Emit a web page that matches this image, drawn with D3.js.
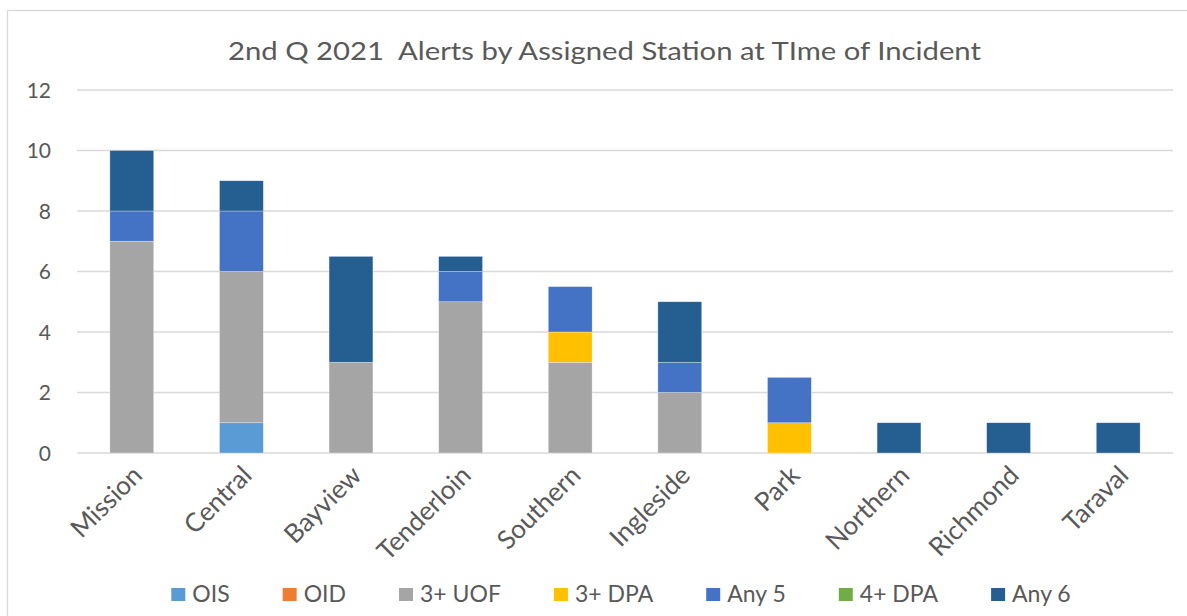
<!DOCTYPE html>
<html>
<head>
<meta charset="utf-8">
<script src="https://cdn.jsdelivr.net/npm/d3@7"></script>
<style>
  body { margin: 0; background: #fff; }
  text { font-family: Lato, "Open Sans", sans-serif; fill: #595959; }
  .grid line { stroke: #d9d9d9; stroke-width: 1.3; }
</style>
</head>
<body>
<div id="chart"></div>
<script>
const stations = ["Mission", "Central", "Bayview", "Tenderloin", "Southern", "Ingleside", "Park", "Northern", "Richmond", "Taraval"]
const seriesNames = ["OIS", "OID", "3+ UOF", "3+ DPA", "Any 5", "4+ DPA", "Any 6"]
const seriesColors = ["#5b9bd5", "#ed7d31", "#a5a5a5", "#ffc000", "#4472c4", "#70ad47", "#255e91"]
const ois    = [0, 1, 0, 0, 0, 0, 0, 0, 0, 0]
const oid    = [0, 0, 0, 0, 0, 0, 0, 0, 0, 0]
const uof3   = [7, 5, 3, 5, 3, 2, 0, 0, 0, 0]
const dpa3   = [0, 0, 0, 0, 1, 0, 1, 0, 0, 0]
const any5   = [1, 2, 0, 1, 1.5, 1, 1.5, 0, 0, 0]
const dpa4   = [0, 0, 0, 0, 0, 0, 0, 0, 0, 0]
const any6   = [2, 1, 3.5, 0.5, 0, 2, 0, 1, 1, 1]
const yTicks = [0, 2, 4, 6, 8, 10, 12]
const title = "2nd Q 2021  Alerts by Assigned Station at TIme of Incident"

const w = 1187, h = 616,
    margin = {top: 90, right: 14, bottom: 163, left: 77}

const seriesValues = [ois, oid, uof3, dpa3, any5, dpa4, any6]
const rows = stations.map((s, i) => {
  const r = {station: s}
  seriesNames.forEach((k, j) => { r[k] = seriesValues[j][i] })
  return r
})

const x = d3.scaleBand()
    .domain(stations)
    .range([margin.left, w - margin.right])
    .paddingInner(0.6)
    .paddingOuter(0.3),
  y = d3.scaleLinear()
    .domain([0, 12])
    .range([h - margin.bottom, margin.top])

const svg = d3.select("#chart").append("svg")
  .attr("width", w)
  .attr("height", h)

// chart frame
svg.append("rect")
  .attr("x", 7.5).attr("y", 10.5)
  .attr("width", w + 10).attr("height", h + 10)
  .attr("fill", "none")
  .attr("stroke", "#d9d9d9")
  .attr("stroke-width", 1.3)

svg.append("text")
  .attr("x", 228)
  .attr("y", 60)
  .attr("textLength", 753)
  .attr("lengthAdjust", "spacingAndGlyphs")
  .style("font-size", "25px")
  .style("white-space", "pre")
  .text(title)

// gridlines
svg.append("g")
  .attr("class", "grid")
  .selectAll("line")
  .data(yTicks)
  .join("line")
  .attr("x1", margin.left)
  .attr("x2", w - margin.right)
  .attr("y1", d => y(d))
  .attr("y2", d => y(d))

svg.append("g")
  .selectAll("text")
  .data(yTicks)
  .join("text")
  .attr("x", 51)
  .attr("y", d => y(d))
  .attr("dy", "0.36em")
  .attr("text-anchor", "end")
  .style("font-size", "21px")
  .text(d => d)

const stack = d3.stack().keys(seriesNames)(rows)

svg.append("g")
  .selectAll("g")
  .data(stack)
  .join("g")
  .attr("fill", (d, i) => seriesColors[i])
  .selectAll("rect")
  .data(d => d.filter(p => p[1] - p[0] > 0))
  .join("rect")
  .attr("x", d => x(d.data.station))
  .attr("width", x.bandwidth())
  .attr("y", d => y(d[1]))
  .attr("height", d => y(d[0]) - y(d[1]))
  .attr("stroke", "#fff")
  .attr("stroke-opacity", 0.5)
  .attr("stroke-width", 0.6)

// x labels, rotated
svg.append("g")
  .selectAll("text")
  .data(stations)
  .join("text")
  .attr("transform", d => `translate(${x(d) + x.bandwidth() / 2 + 12}, 477) rotate(-45)`)
  .attr("text-anchor", "end")
  .style("font-size", "26px")
  .text(d => d)

// legend
const legend = svg.append("g")
const items = legend.selectAll("g")
  .data(seriesNames)
  .join("g")
items.append("rect")
  .attr("width", 14).attr("height", 13)
  .attr("y", -14)
  .attr("fill", (d, i) => seriesColors[i])
items.append("text")
  .attr("x", 21)
  .style("font-size", "23px")
  .text(d => d)

const gap = 53
const widths = items.nodes().map(n => 21 + d3.select(n).select("text").node().getComputedTextLength())
const total = d3.sum(widths) + gap * (widths.length - 1)
const start = 621 - total / 2
items.attr("transform", (d, i) => `translate(${start + d3.sum(widths.slice(0, i)) + gap * i}, 602)`)
</script>
</body>
</html>
